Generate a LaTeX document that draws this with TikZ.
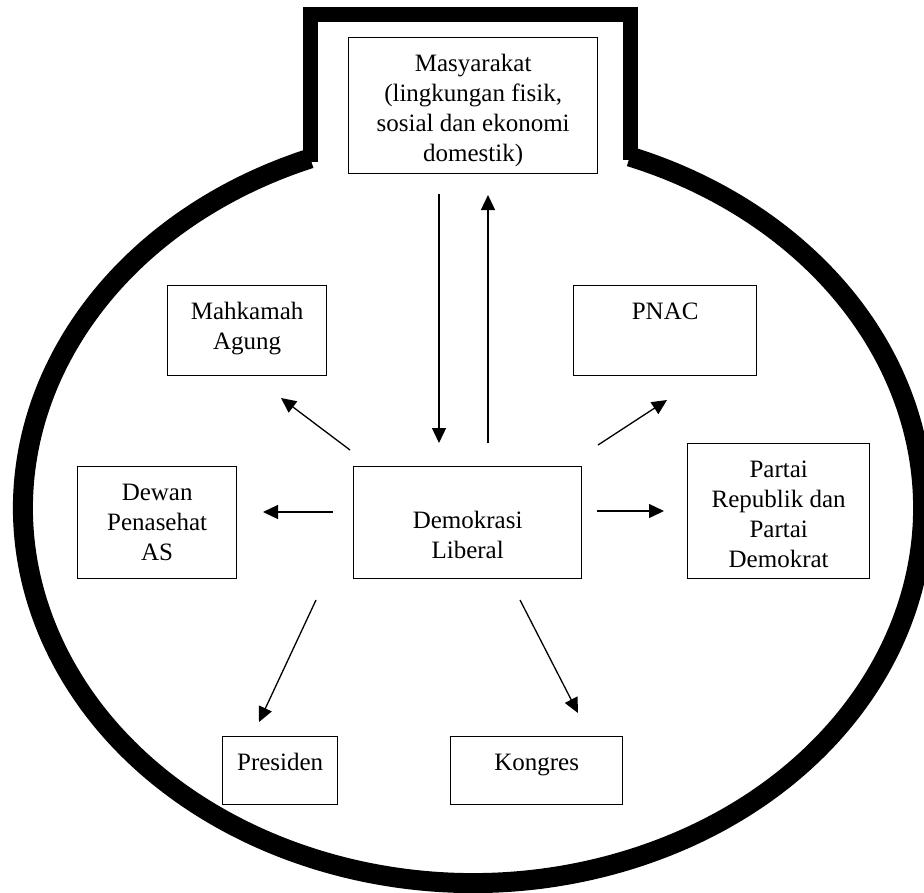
\documentclass[tikz,border=0pt]{standalone}
\usepackage{fontspec}
\setmainfont{Liberation Serif}
\usetikzlibrary{arrows.meta}
\newcommand\boxtxt[4]{\parbox[t][#2pt][t]{#1pt}{\centering\rule{0pt}{#3pt}#4}}
\begin{document}
\begin{tikzpicture}[x=1pt,y=-1pt,
  box/.style={draw, line width=1.3pt, inner sep=0pt, anchor=north west,
    font=\fontsize{25}{30}\selectfont},
  conn/.style={line width=1.3pt, -{Triangle[length=15pt,width=14pt]}}]
\useasboundingbox (0,0) rectangle (924,892);
% outer frame
\draw[line width=15pt, line join=miter] (310,162) -- (310,14.5) -- (630,14.5) -- (630,160);
\draw[line width=20pt] (310.3,158.4) arc[start angle=248.8, end angle=-69.6, x radius=450, y radius=375];
% boxes
\node[box] (mas) at (348,37) {\boxtxt{249}{136}{34}{Masyarakat\\(lingkungan fisik,\\sosial dan ekonomi\\domestik)}};
\node[box] (mah) at (167,285) {\boxtxt{159}{90}{34}{Mahkamah\\Agung}};
\node[box] (pnac) at (573,285) {\boxtxt{183}{90}{34}{PNAC}};
\node[box] (dew) at (77,466) {\boxtxt{159}{112}{34}{Dewan\\Penasehat\\AS}};
\node[box] (dem) at (353,466) {\boxtxt{228}{112}{62}{Demokrasi\\Liberal}};
\node[box] (par) at (687,443) {\boxtxt{182}{135}{34}{Partai\\Republik dan\\Partai\\Demokrat}};
\node[box] (pre) at (222,736) {\boxtxt{115}{68}{34}{Presiden}};
\node[box] (kon) at (450,736) {\boxtxt{172}{68}{34}{Kongres}};
% connector ends
\coordinate (dnS) at (439,194); \coordinate (dnE) at (439,443);
\coordinate (upS) at (488,443); \coordinate (upE) at (488,195);
\coordinate (mahS) at (350,450); \coordinate (mahE) at (281,398);
\coordinate (dewS) at (333,512); \coordinate (dewE) at (263,512);
\coordinate (pnS) at (598,445); \coordinate (pnE) at (667,400);
\coordinate (parS) at (597,511); \coordinate (parE) at (664,511);
\coordinate (preS) at (316,600); \coordinate (preE) at (259,722);
\coordinate (konS) at (520,600); \coordinate (konE) at (578,713);
\draw[conn] (dnS) -- (dnE);
\draw[conn] (upS) -- (upE);
\draw[conn] (mahS) -- (mahE);
\draw[conn] (dewS) -- (dewE);
\draw[conn] (pnS) -- (pnE);
\draw[conn] (parS) -- (parE);
\draw[conn] (preS) -- (preE);
\draw[conn] (konS) -- (konE);
\end{tikzpicture}
\end{document}
